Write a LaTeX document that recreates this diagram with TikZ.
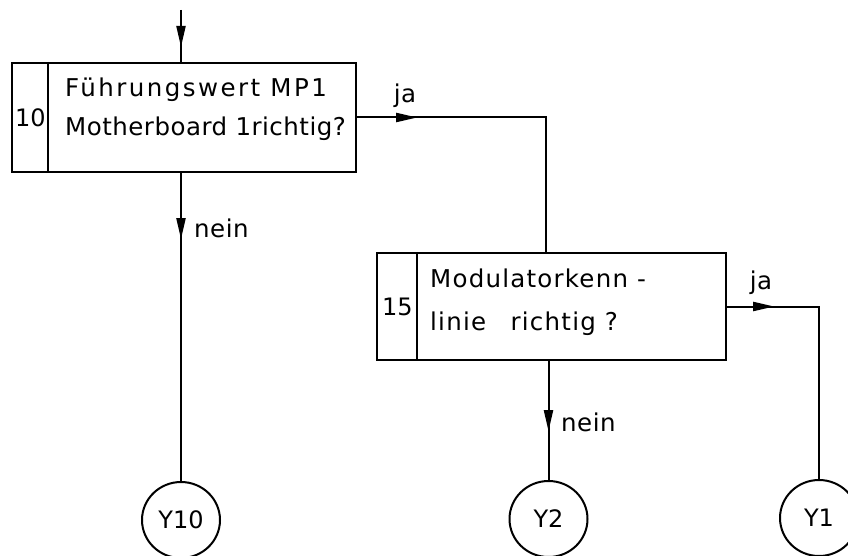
\documentclass[tikz,border=0pt]{standalone}
\usepackage{fontspec}
\setmainfont{DejaVu Sans}
\newfontfamily\wfont{DejaVu Sans}[LetterSpace=2]
\newfontfamily\widefont{DejaVu Sans}[LetterSpace=10]
\newfontfamily\midfont{DejaVu Sans}[LetterSpace=5]
\usetikzlibrary{arrows.meta,decorations.markings,shapes.geometric}

\tikzset{
  qbox/.style={draw, line width=2.4pt, inner sep=0pt},
  numtext/.style={font=\fontsize{24}{28}\selectfont, inner sep=0pt},
  boxtext/.style={font=\wfont\fontsize{24.5}{39}\selectfont, align=left, inner sep=0pt, anchor=west},
  exitnode/.style={ellipse, draw, line width=2pt, minimum width=78pt, minimum height=76pt, inner sep=0pt, font=\fontsize{24}{28}\selectfont},
  lbl/.style={font=\wfont\fontsize{24.5}{30}\selectfont, inner sep=0pt},
  flow/.style={draw, line width=2pt},
  tipat/.style={postaction={decorate}, decoration={markings, mark=at position #1 with {\arrow{Triangle[length=21pt,width=9pt]}}}}
}

\begin{document}
\begin{tikzpicture}[x=1pt,y=-1pt]
    \useasboundingbox (0,0) rectangle (848,556);

    % Abfrage 10
    \node[qbox, minimum width=344pt, minimum height=109pt] (q10) at (184,117.5) {};
    \draw[line width=2.4pt] ([xshift=37pt]q10.north west) -- ([xshift=37pt]q10.south west);
    \node[numtext] (n10) at (30.5,117.5) {10};
    \node[boxtext] (t10) at (65,109.5) {{\widefont Führungswert MP1}\\Motherboard 1richtig?};

    % Abfrage 15
    \node[qbox, minimum width=349pt, minimum height=107pt] (q15) at (551.5,306.5) {};
    \draw[line width=2.4pt] ([xshift=41pt]q15.north west) -- ([xshift=41pt]q15.south west);
    \node[numtext] (n15) at (397.5,306.5) {15};
    \node[boxtext, font=\midfont\fontsize{24.5}{43}\selectfont] (t15) at (430,302.5) {Modulatorkenn -\\linie\quad richtig ?};

    % Ausgaenge
    \node[exitnode] (y10) at (181,520) {Y10};
    \node[exitnode] (y2) at (548.5,519) {Y2};
    \node[exitnode] (y1) at (819,518) {Y1};

    % Verbindungen
    \coordinate (start) at (181,10);
    \coordinate (up15) at (546,117.5);
    \draw[flow, tipat=37pt] (start) -- (start |- q10.north);
    \draw[flow, tipat=66pt] (q10.south -| y10) -- (y10);
    \draw[flow, tipat=60pt] (q10.east) -- (up15) -- (up15 |- q15.north);
    \draw[flow, tipat=70pt] (q15.south -| y2) -- (y2);
    \draw[flow, tipat=47pt] (q15.east) -| (y1);

    % Beschriftung
    \node[lbl] (ja10) at (405,96) {ja};
    \node[lbl, anchor=west] (nein10) at (194,228) {nein};
    \node[lbl] (ja15) at (761,283) {ja};
    \node[lbl, anchor=west] (nein15) at (561,422) {nein};
\end{tikzpicture}
\end{document}
